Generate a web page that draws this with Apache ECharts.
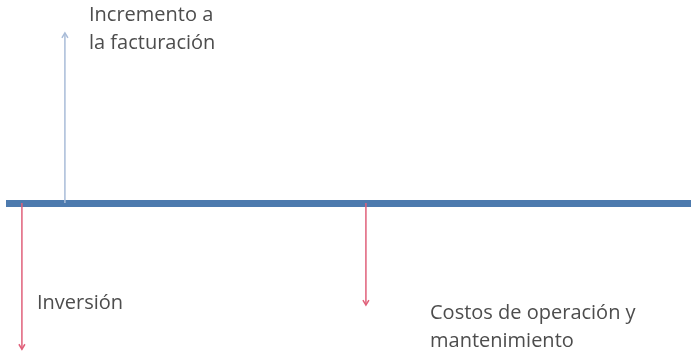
<!DOCTYPE html>
<html><head><meta charset="utf-8">
<script src="https://cdn.jsdelivr.net/npm/echarts@6/dist/echarts.min.js"></script>
<style>html,body{margin:0;padding:0;background:#fff}#c{width:693px;height:353px}</style>
</head><body><div id="c"></div>
<script>
// Cash flow diagram data
const periods = [0, 1, 8];
const flows = [-4.3, 5, -3];
const flowNames = ['Inversión', 'Incremento a\nla facturación', 'Costos de operación y\nmantenimiento'];
const flowColors = ['#e0607a', '#a9bcd8', '#e0607a'];

const chart = echarts.init(document.getElementById('c'));
const data = periods.map((p, i) => [p, flows[i], i]);

chart.setOption({
  animation: false,
  grid: {left: 6, right: 2, top: 0, bottom: 0},
  xAxis: {type: 'value', min: -0.37, max: 15.56, axisLine: {onZero: true, lineStyle: {color: '#4d7aae', width: 7, cap: 'butt'}},
    axisTick: {show: false}, axisLabel: {show: false}, splitLine: {show: false}},
  yAxis: {type: 'value', min: -4.41, max: 5.97, show: false, splitLine: {show: false}},
  series: [{
    type: 'custom',
    data: data,
    z: 1,
    renderItem: function (params, api) {
      const i = api.value(2);
      const p0 = api.coord([api.value(0), 0]);
      const p1 = api.coord([api.value(0), api.value(1)]);
      const up = api.value(1) > 0;
      const d = up ? 1 : -1;
      const c = flowColors[i];
      const h = 5, w = 3;
      return {type: 'group', children: [
        {type: 'line', shape: {x1: p0[0], y1: p0[1], x2: p1[0], y2: p1[1]}, style: {stroke: c, lineWidth: 1.5}},
        {type: 'polyline', shape: {points: [[p1[0] - w, p1[1] + d * h], [p1[0], p1[1]], [p1[0] + w, p1[1] + d * h]]}, style: {stroke: c, lineWidth: 1.5, fill: null}}
      ]};
    }
  }],
  graphic: [
    {type: 'text', left: 89, top: 1, style: {text: flowNames[1], font: '20px "Open Sans"', fill: '#4d4d4d', lineHeight: 28}},
    {type: 'text', left: 37, top: 289, style: {text: flowNames[0], font: '20px "Open Sans"', fill: '#4d4d4d', lineHeight: 28}},
    {type: 'text', left: 430, top: 299, style: {text: flowNames[2], font: '20px "Open Sans"', fill: '#4d4d4d', lineHeight: 28}}
  ]
});
</script></body></html>
